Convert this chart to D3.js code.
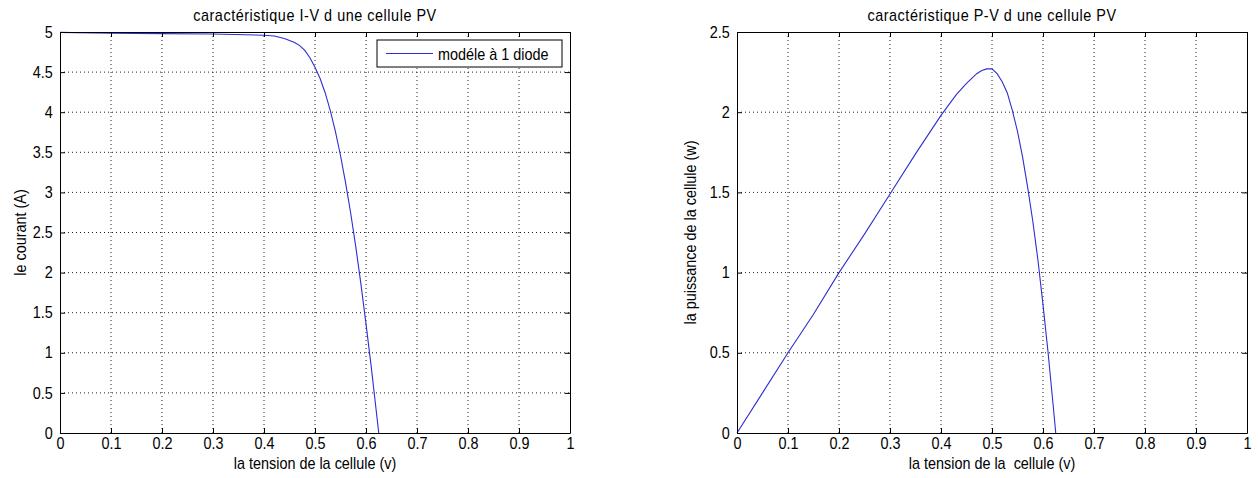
<!DOCTYPE html>
<html>
<head>
<meta charset="utf-8">
<script src="https://cdn.jsdelivr.net/npm/d3@7"></script>
<style>
  body { margin: 0; background: #fff; }
  svg { display: block; }
  svg text { font-family: "Liberation Sans", Arial, sans-serif; font-size: 16px; fill: #000; }
  .grid line { stroke: #222; stroke-dasharray: 1,3; stroke-width: 1; }
  .axis path, .axis line { stroke: #000; }
</style>
</head>
<body>
<div id="wrapper"></div>
<script>
// I-V characteristic (modèle à 1 diode)
const ivVoltage = [0, 0.1, 0.2, 0.3, 0.4, 0.42, 0.44, 0.46, 0.47, 0.48, 0.49, 0.5, 0.51, 0.52, 0.53, 0.54, 0.55, 0.56, 0.57, 0.58, 0.59, 0.6, 0.61, 0.62, 0.625];
const ivCurrent = [4.995, 4.985, 4.98, 4.975, 4.96, 4.95, 4.92, 4.87, 4.83, 4.77, 4.68, 4.56, 4.42, 4.24, 4.02, 3.76, 3.46, 3.12, 2.74, 2.32, 1.86, 1.36, 0.84, 0.28, 0];

// P-V characteristic
const pvVoltage = [0, 0.05, 0.1, 0.15, 0.2, 0.25, 0.3, 0.35, 0.4, 0.43, 0.45, 0.47, 0.48, 0.49, 0.5, 0.51, 0.52, 0.53, 0.54, 0.55, 0.56, 0.57, 0.58, 0.59, 0.6, 0.61, 0.62, 0.625];
const pvPower = [0, 0.25, 0.5, 0.74, 1.0, 1.24, 1.49, 1.74, 1.98, 2.11, 2.18, 2.24, 2.26, 2.27, 2.27, 2.24, 2.19, 2.12, 2.01, 1.88, 1.72, 1.53, 1.32, 1.08, 0.8, 0.5, 0.17, 0];

const xTicks = [0, 0.1, 0.2, 0.3, 0.4, 0.5, 0.6, 0.7, 0.8, 0.9, 1];
const ivTicks = [0, 0.5, 1, 1.5, 2, 2.5, 3, 3.5, 4, 4.5, 5];
const pvTicks = [0, 0.5, 1, 1.5, 2, 2.5];

const lineColor = "#2e2ed0";
const squeeze = "scale(0.9, 1)"; // narrow glyphs like the matlab export

const svg = d3.select("#wrapper")
    .append("svg")
    .attr("width", 1258)
    .attr("height", 478);

function narrowText(parent, x, y, str, rotate) {
    const holder = parent.append("g")
        .attr("transform", `translate(${x}, ${y})` + (rotate ? " rotate(-90)" : ""));
    return holder.append("text")
        .attr("transform", squeeze)
        .attr("text-anchor", "middle")
        .style("white-space", "pre")
        .text(str);
}

function drawPanel(opts) {
    const g = svg.append("g")
        .attr("transform", `translate(${opts.left}, ${opts.top})`);

    const xScale = d3.scaleLinear().domain([0, 1]).range([0, opts.width]);
    const yScale = d3.scaleLinear().domain(opts.yDomain).range([opts.height, 0]);

    // dotted grid
    const grid = g.append("g").attr("class", "grid");
    grid.selectAll(".vx")
        .data(xTicks.slice(1, -1))
        .enter().append("line")
        .attr("x1", d => xScale(d)).attr("x2", d => xScale(d))
        .attr("y1", 0).attr("y2", opts.height);
    grid.selectAll(".hy")
        .data(opts.yTicks.slice(1, -1))
        .enter().append("line")
        .attr("x1", 0).attr("x2", opts.width)
        .attr("y1", d => yScale(d)).attr("y2", d => yScale(d));

    // curve
    const line = d3.line()
        .x(d => xScale(d[0]))
        .y(d => yScale(d[1]));
    g.append("path")
        .datum(d3.zip(opts.xs, opts.ys))
        .attr("d", line)
        .attr("fill", "none")
        .attr("stroke", lineColor)
        .attr("stroke-width", 1.1);

    // axes, ticks inward (matlab style)
    const fmt = d => String(d);
    const xAxis = g.append("g").attr("class", "axis")
        .attr("transform", `translate(0, ${opts.height})`)
        .call(d3.axisBottom(xScale).tickValues(xTicks).tickFormat(fmt).tickSizeInner(-5).tickSizeOuter(0).tickPadding(5));
    const yAxis = g.append("g").attr("class", "axis")
        .call(d3.axisLeft(yScale).tickValues(opts.yTicks).tickFormat(fmt).tickSizeInner(-5).tickSizeOuter(0).tickPadding(8));
    g.append("g").attr("class", "axis")
        .call(d3.axisTop(xScale).tickValues(xTicks).tickFormat("").tickSizeInner(-5).tickSizeOuter(0));
    g.append("g").attr("class", "axis")
        .attr("transform", `translate(${opts.width}, 0)`)
        .call(d3.axisRight(yScale).tickValues(opts.yTicks).tickFormat("").tickSizeInner(-5).tickSizeOuter(0));
    xAxis.selectAll("text").attr("transform", squeeze);
    yAxis.selectAll("text").attr("transform", squeeze);
    g.selectAll(".axis").attr("font-family", null).attr("font-size", null);

    // titles
    narrowText(g, opts.width / 2, -11, opts.title).style("letter-spacing", "0.6px");
    narrowText(g, opts.width / 2, opts.height + 36, opts.xLabel);
    narrowText(g, opts.yLabelX, opts.height / 2, opts.yLabel, true);

    return { g, xScale, yScale };
}

const left = drawPanel({
    left: 60, top: 32, width: 510, height: 401,
    yDomain: [0, 5], yTicks: ivTicks,
    xs: ivVoltage, ys: ivCurrent,
    title: "caractéristique I-V d une cellule PV",
    xLabel: "la tension de la cellule (v)",
    yLabel: "le courant (A)",
    yLabelX: -34
});

drawPanel({
    left: 737, top: 32, width: 510, height: 401,
    yDomain: [0, 2.5], yTicks: pvTicks,
    xs: pvVoltage, ys: pvPower,
    title: "caractéristique P-V d une cellule PV",
    xLabel: "la tension de la  cellule (v)",
    yLabel: "la puissance de la cellule (w)",
    yLabelX: -41
});

// legend on the I-V panel
const legend = left.g.append("g")
    .attr("transform", "translate(317, 8)");
legend.append("rect")
    .attr("width", 185).attr("height", 27)
    .attr("fill", "#fff").attr("stroke", "#000");
legend.append("line")
    .attr("x1", 9).attr("x2", 56)
    .attr("y1", 13.5).attr("y2", 13.5)
    .attr("stroke", lineColor).attr("stroke-width", 1.1);
legend.append("g")
    .attr("transform", "translate(61, 19.5)")
    .append("text")
    .attr("transform", squeeze)
    .text("modéle à 1 diode");
</script>
</body>
</html>
